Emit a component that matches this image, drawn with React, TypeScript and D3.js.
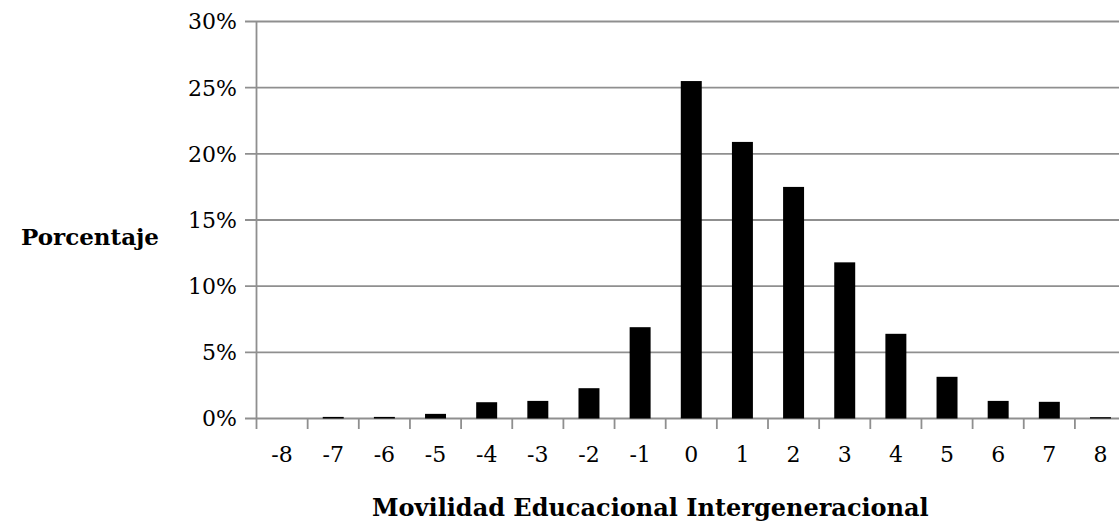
import React from "react";
import * as d3 from "d3";

const categories: string[] = ["-8", "-7", "-6", "-5", "-4", "-3", "-2", "-1", "0", "1", "2", "3", "4", "5", "6", "7", "8"];
const percentages: number[] = [0, 0.12, 0.12, 0.35, 1.23, 1.33, 2.29, 6.9, 25.5, 20.9, 17.5, 11.8, 6.4, 3.15, 1.33, 1.26, 0.1];
const yTicks: number[] = [0, 5, 10, 15, 20, 25, 30];
const yTitle = "Porcentaje";
const xTitle = "Movilidad Educacional Intergeneracional";

const W = 1119;
const H = 523;
const left = 256.5;
const step = 51.15;
const top = 21.5;
const bottom = 418.5;
const gridColor = "#8f8f8f";
const font = "'DejaVu Serif', serif";

export default function App() {
  const x = d3.scaleBand<string>().domain(categories).range([left, left + step * categories.length]).padding(0);
  const y = d3.scaleLinear().domain([0, 30]).range([bottom, top]);
  const bw = x.bandwidth() * 0.41;
  const boundaries = categories.map((c) => x(c) as number);

  return (
    <svg width={W} height={H} style={{ position: "absolute", left: 0, top: 0, background: "#fff" }}>
      <rect x={0} y={0} width={W} height={H} fill="#fff" />
      {yTicks.map((t) => (
        <g key={t}>
          <line x1={245} x2={W} y1={y(t)} y2={y(t)} stroke={gridColor} strokeWidth={1.8} />
          <text x={237} y={y(t)} dy="0.36em" textAnchor="end" fontFamily={font} fontSize={22} fill="#000">
            {t}%
          </text>
        </g>
      ))}
      <line x1={left} x2={left} y1={y(30)} y2={bottom + 10.5} stroke={gridColor} strokeWidth={1.8} />
      {boundaries.slice(1).map((bx, i) => (
        <line key={i} x1={bx} x2={bx} y1={bottom} y2={bottom + 10.5} stroke={gridColor} strokeWidth={1.8} />
      ))}
      {categories.map((c, i) => (
        <rect
          key={c}
          x={(x(c) as number) + x.bandwidth() / 2 - bw / 2}
          y={y(percentages[i])}
          width={bw}
          height={bottom - y(percentages[i])}
          fill="#000"
        />
      ))}
      {categories.map((c) => (
        <text key={c} x={(x(c) as number) + x.bandwidth() / 2} y={462} textAnchor="middle" fontFamily={font} fontSize={22} fill="#000">
          {c}
        </text>
      ))}
      <text x={159} y={245} textAnchor="end" fontFamily={font} fontWeight="bold" fontSize={23} fill="#000">
        {yTitle}
      </text>
      <text x={372} y={516} textAnchor="start" fontFamily={font} fontWeight="bold" fontSize={24} fill="#000">
        {xTitle}
      </text>
    </svg>
  );
}
